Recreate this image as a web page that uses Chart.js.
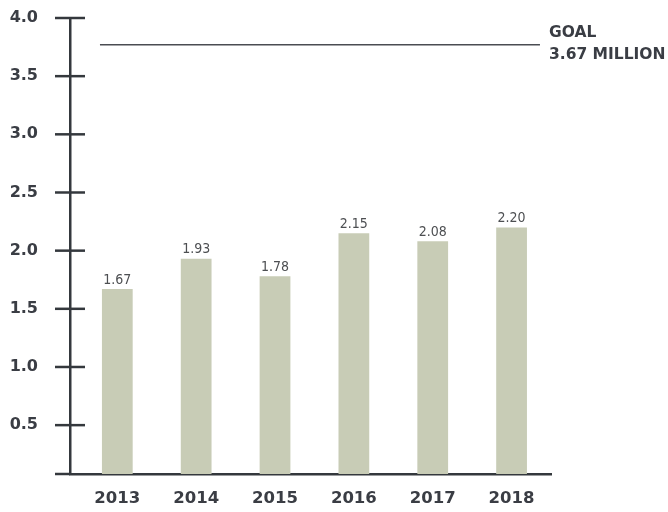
<!DOCTYPE html>
<html>
<head>
<meta charset="utf-8">
<script src="https://cdn.jsdelivr.net/npm/chart.js@4"></script>
<style>
html,body{margin:0;padding:0;background:#fff;}
#wrap{width:668px;height:512px;}
</style>
</head>
<body>
<div id="wrap"><canvas id="c" width="668" height="512"></canvas></div>
<script>
const years = ["2013","2014","2015","2016","2017","2018"];
const values = [1.67, 1.93, 1.78, 2.15, 2.08, 2.20];
const yTicks = [0.5, 1.0, 1.5, 2.0, 2.5, 3.0, 3.5, 4.0];
const goalValue = 3.77;
const goalLabel = ["GOAL", "3.67 MILLION"];

const AXIS = "#34383d";
const BAR = "#c8ccb6";

const decor = {
  id: "decor",
  afterDatasetsDraw(chart) {
    const ctx = chart.ctx;
    const ys = chart.scales.y, xs = chart.scales.x, ca = chart.chartArea;
    ctx.save();
    // value labels
    const meta = chart.getDatasetMeta(0);
    ctx.font = "14px 'DejaVu Sans Condensed', 'DejaVu Sans', sans-serif";
    ctx.fillStyle = "#4d4f52";
    ctx.textAlign = "center";
    ctx.textBaseline = "bottom";
    meta.data.forEach((bar, i) => {
      ctx.fillText(values[i].toFixed(2), bar.x, bar.y - 2);
    });
    // y tick marks crossing axis
    ctx.strokeStyle = AXIS;
    ctx.lineWidth = 2.5;
    yTicks.forEach(v => {
      const py = ys.getPixelForValue(v);
      ctx.beginPath();
      ctx.moveTo(ca.left - 15, py);
      ctx.lineTo(ca.left + 15, py);
      ctx.stroke();
    });
    // x axis stub to the left
    ctx.beginPath();
    ctx.moveTo(ca.left - 15, ca.bottom);
    ctx.lineTo(ca.left, ca.bottom);
    ctx.stroke();
    // goal line
    const gy = ys.getPixelForValue(goalValue);
    const gx0 = xs.getPixelForValue(-0.22);
    const gx1 = xs.getPixelForValue(5.36);
    ctx.strokeStyle = "#4a4d52";
    ctx.lineWidth = 1.4;
    ctx.beginPath();
    ctx.moveTo(gx0, gy);
    ctx.lineTo(gx1, gy);
    ctx.stroke();
    ctx.font = "bold 15.5px 'DejaVu Sans', sans-serif";
    ctx.fillStyle = "#3a3d44";
    ctx.textAlign = "left";
    ctx.textBaseline = "middle";
    ctx.fillText(goalLabel[0], gx1 + 9, gy - 12);
    ctx.fillText(goalLabel[1], gx1 + 9, gy + 10);
    ctx.restore();
  }
};

new Chart(document.getElementById("c"), {
  type: "bar",
  data: {
    datasets: [{
      data: values.map((v, i) => ({x: i, y: v})),
      backgroundColor: BAR,
      borderWidth: 0,
      barPercentage: 0.39,
      categoryPercentage: 1.0
    }]
  },
  options: {
    responsive: false,
    animation: false,
    layout: {padding: {left: 6, right: 117, top: 18, bottom: 8}},
    plugins: {legend: {display: false}, tooltip: {enabled: false}},
    scales: {
      x: {
        type: "linear",
        offset: false,
        min: -0.6,
        max: 5.5,
        afterBuildTicks(scale) { scale.ticks = years.map((y, i) => ({value: i})); },
        afterFit(scale) { scale.height = 30; scale.paddingLeft = 0; scale.paddingRight = 0; },
        grid: {display: false, drawTicks: false},
        border: {display: true, color: AXIS, width: 2.5},
        ticks: {
          callback: (v) => years[v],
          font: {family: "'DejaVu Sans', sans-serif", weight: "bold", size: 16.5},
          color: "#3a3d44",
          padding: 15,
          autoSkip: false,
          maxRotation: 0
        }
      },
      y: {
        min: 0.08,
        max: 4.0,
        afterBuildTicks(scale) { scale.ticks = yTicks.map(v => ({value: v})); },
        afterFit(scale) { scale.width = 64; scale.paddingTop = 0; scale.paddingBottom = 0; },
        grid: {display: false, drawTicks: false},
        border: {display: true, color: AXIS, width: 2.5},
        ticks: {
          callback: (v) => v.toFixed(1),
          font: {family: "'DejaVu Sans', sans-serif", weight: "bold", size: 16},
          color: "#3a3d44",
          padding: 32
        }
      }
    }
  },
  plugins: [decor]
});
</script>
</body>
</html>
